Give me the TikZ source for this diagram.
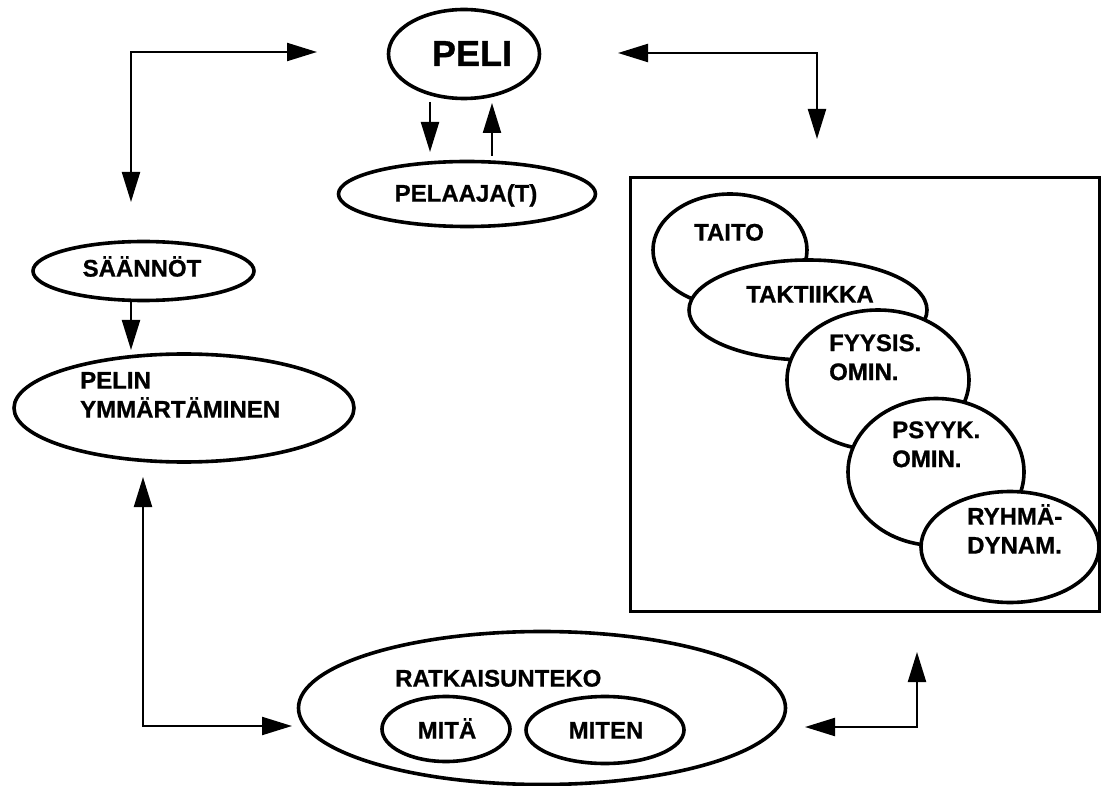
\documentclass[tikz,border=0pt]{standalone}
\usepackage{fontspec}
\setmainfont{Liberation Sans}[BoldFeatures={FakeBold=0.8}]
\usetikzlibrary{arrows.meta,shapes.geometric}
\begin{document}
\begin{tikzpicture}[x=1pt,y=-1pt,
  ell/.style={ellipse, draw, line width=3.6pt, fill=white, inner sep=0pt},
  lbl/.style={font=\fontsize{24}{29}\selectfont\bfseries, inner sep=0pt, text height=17.2pt, text depth=0pt, align=left},
  biglbl/.style={font=\fontsize{36}{40}\selectfont\bfseries, inner sep=0pt, text height=25.8pt, text depth=0pt},
  tip/.tip={Triangle[length=30pt,width=18pt]},
  arr/.style={line width=2.2pt, -tip},
  arrtwo/.style={line width=2.2pt, tip-tip},
  frame/.style={draw, line width=3pt}
]
\useasboundingbox (0,0) rectangle (1101,786);

% top group
\node[ell, minimum width=151pt, minimum height=89pt] (peli) at (464,54) {};
\node[biglbl] (pelit) at (472,53) {PELI};
\node[ell, minimum width=257pt, minimum height=65pt] (pelaaja) at (467,194) {};
\node[lbl] (pelaajat) at (466,193) {PELAAJA(T)};

% left group
\node[ell, minimum width=221pt, minimum height=59pt] (saannot) at (143.5,271) {};
\node[lbl] (saannott) at (142,268) {SÄÄNNÖT};
\node[ell, minimum width=340pt, minimum height=108pt] (pelin) at (184,408) {};
\node[lbl, anchor=west] (pelint) at (80,409) {PELIN\\YMMÄRTÄMINEN};

% right box
\node[frame, minimum width=469pt, minimum height=433pt, inner sep=0pt] (box) at (864.5,394.5) {};
\node[ell, minimum width=154pt, minimum height=112pt] (taito) at (730,250) {};
\node[lbl] (taitot) at (729,232) {TAITO};
\node[ell, minimum width=238pt, minimum height=100pt] (taktiikka) at (808,310) {};
\node[lbl] (taktiikkat) at (810,294) {TAKTIIKKA};
\node[ell, minimum width=182pt, minimum height=140pt] (fyysis) at (878,380) {};
\node[lbl, anchor=west] (fyysist) at (829,371.5) {FYYSIS.\\OMIN.};
\node[ell, minimum width=176pt, minimum height=147pt] (psyyk) at (936,472) {};
\node[lbl, anchor=west] (psyykt) at (892,458.5) {PSYYK.\\OMIN.};
\node[ell, minimum width=178pt, minimum height=111pt] (ryhma) at (1010,547) {};
\node[lbl, anchor=west] (ryhmat) at (967,545) {RYHMÄ-\\DYNAM.};

% bottom group
\node[ell, minimum width=487pt, minimum height=153pt] (ratk) at (542,708) {};
\node[lbl, anchor=west] (ratkt) at (395,678) {RATKAISUNTEKO};
\node[ell, minimum width=128pt, minimum height=65pt] (mita) at (446,729) {};
\node[lbl] (mitat) at (447,730) {MITÄ};
\node[ell, minimum width=158pt, minimum height=67pt] (miten) at (605,730) {};
\node[lbl] (mitent) at (606,730) {MITEN};

% connectors
\coordinate (tla) at (131,202);
\coordinate (tlb) at (317,52);
\draw[arrtwo] (tla) |- (tlb);

\coordinate (tra) at (618,53);
\coordinate (trb) at (817,139);
\draw[arrtwo] (tra) -| (trb);

\coordinate (pda) at (430,102);
\coordinate (pdb) at (430,152);
\draw[arr] (pda) -- (pdb);
\coordinate (pua) at (492,156);
\coordinate (pub) at (492,103);
\draw[arr] (pua) -- (pub);

\coordinate (saa) at (131,302);
\coordinate (sab) at (131,350);
\draw[arr] (saa) -- (sab);

\coordinate (bla) at (143,477);
\coordinate (blb) at (292,726);
\draw[arrtwo] (bla) |- (blb);

\coordinate (bra) at (805,727);
\coordinate (brb) at (917,652);
\draw[arrtwo] (bra) -| (brb);
\end{tikzpicture}
\end{document}
